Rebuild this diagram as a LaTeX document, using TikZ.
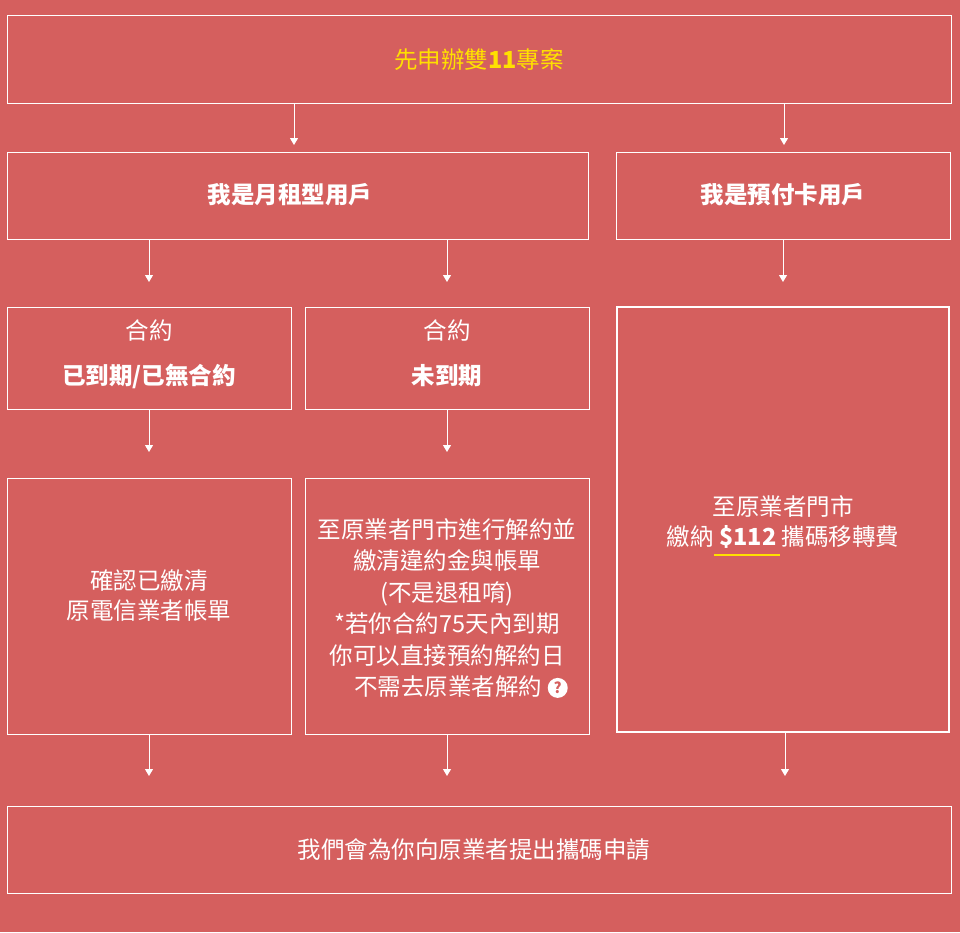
\documentclass[tikz,border=0pt]{standalone}
\usepackage{fontspec}
\setmainfont{Noto Sans CJK TC}
\usetikzlibrary{arrows.meta}
\definecolor{bg}{HTML}{D55F5E}
\definecolor{yel}{HTML}{FFE000}
\begin{document}
\begin{tikzpicture}[x=1pt,y=-1pt,
 box/.style={draw=white,line width=1pt},
 txt/.style={text=white,font=\fontsize{23.5}{30}\selectfont,align=center},
 hd/.style={txt,font=\fontsize{23.5}{30}\selectfont\bfseries},
 arr/.style={draw=white,line width=1pt,-{Triangle[width=8pt,length=7pt,fill=white]}}]
\fill[bg] (0,0) rectangle (960,932);
\useasboundingbox (0,0) rectangle (960,932);
\draw[box] (7,15) rectangle (951,103);
\node[txt,text=yel] (t) at (479,60) {先申辦雙\textbf{11}專案};
\draw[box] (7,152) rectangle (588,239);
\node[hd] (m) at (290,195) {我是月租型用戶};
\draw[box] (616,152) rectangle (950,239);
\node[hd] (p) at (783,195) {我是預付卡用戶};
\draw[box] (7,307) rectangle (291,409);
\node[txt] (c1a) at (149,331) {合約};
\node[hd] (c1b) at (149,376) {已到期/已無合約};
\draw[box] (305,307) rectangle (589,409);
\node[txt] (c2a) at (447,331) {合約};
\node[hd] (c2b) at (447,376) {未到期};
\draw[box,line width=2pt] (617,307) rectangle (949,732);
\node[txt] (r) at (783,522) {至原業者門市\\繳納 \textbf{\$112} 攜碼移轉費};
\draw[yel,line width=2.5pt] (714,555) -- (780,555);
\draw[box] (7,478) rectangle (291,734);
\node[txt] (l4) at (149,596) {確認已繳清\\原電信業者帳單};
\draw[box] (305,478) rectangle (589,734);
\node[txt,font=\fontsize{23.5}{31.5}\selectfont] (m4) at (447,608) {至原業者門市進行解約並\\繳清違約金與帳單\\(不是退租唷)\\*若你合約75天內到期\\你可以直接預約解約日\\\hspace*{1.2em}不需去原業者解約 \tikz[baseline=-0.6ex]{\fill[white] circle (10pt); \node[text=bg,font=\fontsize{15}{15}\selectfont\bfseries,inner sep=0] {?};}};
\draw[box] (7,806) rectangle (951,893);
\node[txt] (b) at (474,850) {我們會為你向原業者提出攜碼申請};
\coordinate (a1) at (294,145); \coordinate (a2) at (784,145);
\coordinate (a3) at (149,282); \coordinate (a4) at (447,282); \coordinate (a5) at (783,282);
\coordinate (a6) at (149,452); \coordinate (a7) at (447,452);
\coordinate (a8) at (149,776); \coordinate (a9) at (447,776); \coordinate (a10) at (785,776);
\draw[arr] (294,103) -- (a1);
\draw[arr] (784,103) -- (a2);
\draw[arr] (149,239) -- (a3);
\draw[arr] (447,239) -- (a4);
\draw[arr] (783,239) -- (a5);
\draw[arr] (149,409) -- (a6);
\draw[arr] (447,409) -- (a7);
\draw[arr] (149,734) -- (a8);
\draw[arr] (447,734) -- (a9);
\draw[arr] (785,733) -- (a10);
\end{tikzpicture}
\end{document}
